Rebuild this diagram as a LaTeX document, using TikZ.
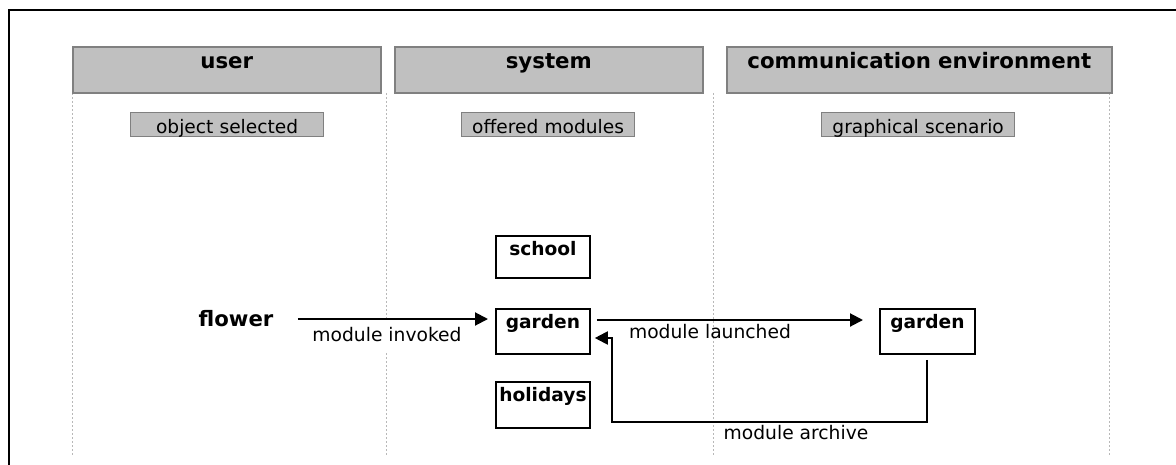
\documentclass[tikz,border=0pt]{standalone}
\usepackage{fontspec}
\setmainfont{DejaVu Sans}
\usetikzlibrary{arrows.meta}
\definecolor{hdrfill}{HTML}{C0C0C0}
\definecolor{hdrline}{HTML}{808080}
\definecolor{dotline}{HTML}{B8B8B8}
\begin{document}
\begin{tikzpicture}[x=0.5pt,y=-0.5pt,
  hdr/.style={draw=hdrline, fill=hdrfill, line width=0.8pt, anchor=north west, inner sep=0pt,
    text width=#1, align=center, text height=11pt, text depth=12pt,
    font=\fontsize{10.65}{12}\selectfont\bfseries},
  sub/.style={draw=hdrline, fill=hdrfill, line width=0.6pt, anchor=north west, inner sep=0pt,
    text width=#1, align=center, text height=10.5pt, text depth=1.5pt,
    font=\fontsize{9.3}{11}\selectfont},
  modbox/.style={draw, line width=0.9pt, anchor=north west, inner sep=0pt,
    text width=47pt, align=center, text height=10pt, text depth=#1,
    font=\fontsize{9.3}{11}\selectfont\bfseries},
  lbl/.style={font=\fontsize{9.35}{11}\selectfont, inner sep=0pt, anchor=base},
  lane/.style={draw=dotline, line width=0.5pt, dash pattern=on 1pt off 1pt},
  arr/.style={line width=1pt, -{Triangle[length=6.5pt,width=6.5pt]}}
]
\useasboundingbox (0,0) rectangle (1176,465);
% frame
\draw[line width=1.1pt] (9,465) -- (9,10) -- (1176,10);
% lane separators
\draw[lane] (72,93) -- (72,457);
\draw[lane] (386,93) -- (386,457);
\draw[lane] (713,93) -- (713,457);
\draw[lane] (1109,93) -- (1109,457);
% headers
\node[hdr=154pt] (huser) at (72,46) {user};
\node[hdr=154pt] (hsys) at (394,46) {system};
\node[hdr=192.5pt] (hcomm) at (726,46) {communication environment};
% sub headers
\node[sub=96.5pt] (sobj) at (130,112) {object selected};
\node[sub=86.5pt] (soff) at (461,112) {offered modules};
\node[sub=96.5pt] (sgra) at (821,112) {graphical scenario};
% modules
\node[modbox=11pt] (school) at (495,235) {school};
\node[modbox=12.5pt] (garden) at (495,308) {garden};
\node[modbox=13pt] (holidays) at (495,381) {holidays};
\node[modbox=12.5pt, text width=47.5pt] (garden2) at (879,308) {garden};
% flower
\node[font=\fontsize{10.6}{12}\selectfont\bfseries, inner xsep=12pt, inner ysep=0pt,
      text height=7.5pt, text depth=0.5pt] (flower) at (236,319) {flower};
% labels
\node[lbl, fill=white, text height=10.5pt, text depth=6pt, inner xsep=2pt] (linv) at (387,341) {module invoked};
\node[lbl] (llau) at (710,338) {module launched};
\node[lbl] (larc) at (796,439) {module archive};
% connectors
\draw[arr, shorten >=3.5pt] (flower.east) -- (flower.east -| garden.west);
\draw[arr] ([shift={(3pt,-6pt)}]garden.north east) -- ([shift={(-8pt,-6pt)}]garden2.north west);
\coordinate (arccorner) at (612,422);
\draw[arr] ([yshift=-2.5pt]garden2.south) |- (arccorner) |- ([shift={(2pt,-15pt)}]garden.north east);
\end{tikzpicture}
\end{document}
